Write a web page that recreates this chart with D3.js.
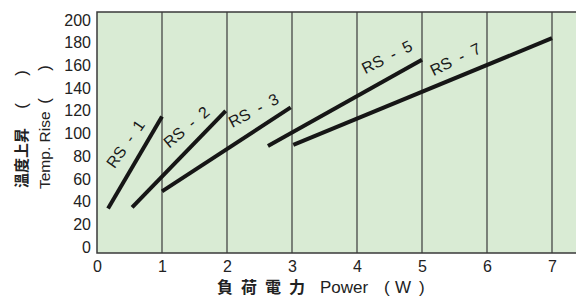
<!DOCTYPE html>
<html>
<head>
<meta charset="utf-8">
<script src="https://cdn.jsdelivr.net/npm/d3@7"></script>
<style>
  body { margin: 0; background: #fff; }
  svg { display: block; }
</style>
</head>
<body>
<div id="chart"></div>
<script>
// data
const series = ["RS - 1", "RS - 2", "RS - 3", "RS - 5", "RS - 7"];
const powerStart = [0.17, 0.54, 1.0, 2.63, 3.02];
const powerEnd = [1.0, 1.98, 2.98, 5.0, 7.0];
const riseStart = [34, 35, 49, 89, 90];
const riseEnd = [115, 120, 123, 165, 184];
// label placement along each line: [x, y] in data units and angle
const labelPos = [[0.51, 88], [1.43, 102], [2.45, 116], [4.5, 163], [5.55, 161]];
const labelAngle = [-55, -40, -28, -27, -26];

const xTicks = [0, 1, 2, 3, 4, 5, 6, 7];
const yTicks = [0, 20, 40, 60, 80, 100, 120, 140, 160, 180, 200];

const width = 576;
const height = 300;
const plot = { left: 97, right: 576, top: 12, bottom: 253 };
const latin = "Liberation Sans, Arial, sans-serif";
const cjk = "Noto Sans CJK TC, sans-serif";

const svg = d3.select("#chart")
  .append("svg")
  .attr("width", width)
  .attr("height", height);

const x = d3.scaleLinear().domain([0, 7]).range([97, 552]);
const y = d3.scaleLinear().domain([0, 200]).range([247, 20]);

// plot background
svg.append("rect")
  .attr("x", plot.left)
  .attr("y", plot.top)
  .attr("width", plot.right - plot.left)
  .attr("height", plot.bottom - plot.top)
  .attr("fill", "#d9ebd4");

// vertical grid lines
svg.append("g")
  .selectAll("line")
  .data(xTicks.filter(d => d > 0))
  .enter().append("line")
    .attr("x1", d => x(d))
    .attr("x2", d => x(d))
    .attr("y1", plot.top)
    .attr("y2", plot.bottom)
    .attr("stroke", "#3a3a3a")
    .attr("stroke-width", 1.2);

// frame: left, top, bottom
svg.append("path")
  .attr("d", `M${width},${plot.top}H${plot.left}V${plot.bottom}H${width}`)
  .attr("fill", "none")
  .attr("stroke", "#3a3a3a")
  .attr("stroke-width", 1.5);

// series lines
const rows = series.map((s, i) => ({
  name: s,
  pts: [[powerStart[i], riseStart[i]], [powerEnd[i], riseEnd[i]]],
  label: labelPos[i],
  angle: labelAngle[i]
}));

const line = d3.line().x(d => x(d[0])).y(d => y(d[1]));

svg.append("g")
  .selectAll("path")
  .data(rows)
  .enter().append("path")
    .attr("d", d => line(d.pts))
    .attr("fill", "none")
    .attr("stroke", "#161616")
    .attr("stroke-width", 4);

svg.append("g")
  .selectAll("text")
  .data(rows)
  .enter().append("text")
    .attr("transform", d => `translate(${x(d.label[0])},${y(d.label[1])}) rotate(${d.angle})`)
    .attr("text-anchor", "middle")
    .attr("font-family", latin)
    .attr("font-size", 16)
    .attr("fill", "#1a1a1a")
    .attr("xml:space", "preserve")
    .text(d => d.name.replace(" - ", "  -  "));

// axes (labels only)
const xAxis = svg.append("g")
  .attr("transform", `translate(0,${plot.bottom})`)
  .call(d3.axisBottom(x).tickValues(xTicks).tickFormat(d3.format("d")).tickSize(0).tickPadding(8));
const yAxis = svg.append("g")
  .attr("transform", `translate(${plot.left},0)`)
  .call(d3.axisLeft(y).tickValues(yTicks).tickSize(0).tickPadding(6));

[xAxis, yAxis].forEach(g => {
  g.select(".domain").remove();
  g.selectAll("text")
    .attr("font-family", latin)
    .attr("font-size", 16)
    .attr("fill", "#222");
});

// x axis title
const xt = svg.append("text")
  .attr("y", 293)
  .attr("fill", "#222")
  .attr("font-size", 16);
["負", "荷", "電", "力"].forEach((c, i) => {
  xt.append("tspan")
    .attr("x", 217 + i * 24)
    .attr("font-family", cjk)
    .attr("font-weight", "bold")
    .text(c);
});
xt.append("tspan").attr("x", 320).attr("font-family", latin).attr("font-size", 17).text("Power");
xt.append("tspan").attr("x", 384).attr("font-family", latin).attr("font-size", 17).text("(");
xt.append("tspan").attr("x", 395).attr("font-family", latin).attr("font-size", 17).text("W");
xt.append("tspan").attr("x", 419).attr("font-family", latin).attr("font-size", 17).text(")");

// y axis titles
svg.append("text")
  .attr("transform", "translate(27,188) rotate(-90)")
  .attr("font-family", cjk)
  .attr("font-weight", "bold")
  .attr("font-size", 15)
  .attr("fill", "#222")
  .text("溫度上昇");

svg.append("text")
  .attr("transform", "translate(50,189) rotate(-90)")
  .attr("font-family", latin)
  .attr("font-size", 15.5)
  .attr("fill", "#222")
  .text("Temp. Rise");

// empty unit brackets next to both titles
[[21, 106, 73], [44, 101, 68]].forEach(p => {
  svg.append("text")
    .attr("transform", `translate(${p[0] + 6},${p[1]}) rotate(-90)`)
    .attr("text-anchor", "middle")
    .attr("font-family", latin)
    .attr("font-size", 17)
    .attr("fill", "#222")
    .text("(");
  svg.append("text")
    .attr("transform", `translate(${p[0] + 6},${p[2]}) rotate(-90)`)
    .attr("text-anchor", "middle")
    .attr("font-family", latin)
    .attr("font-size", 17)
    .attr("fill", "#222")
    .text(")");
});
</script>
</body>
</html>
